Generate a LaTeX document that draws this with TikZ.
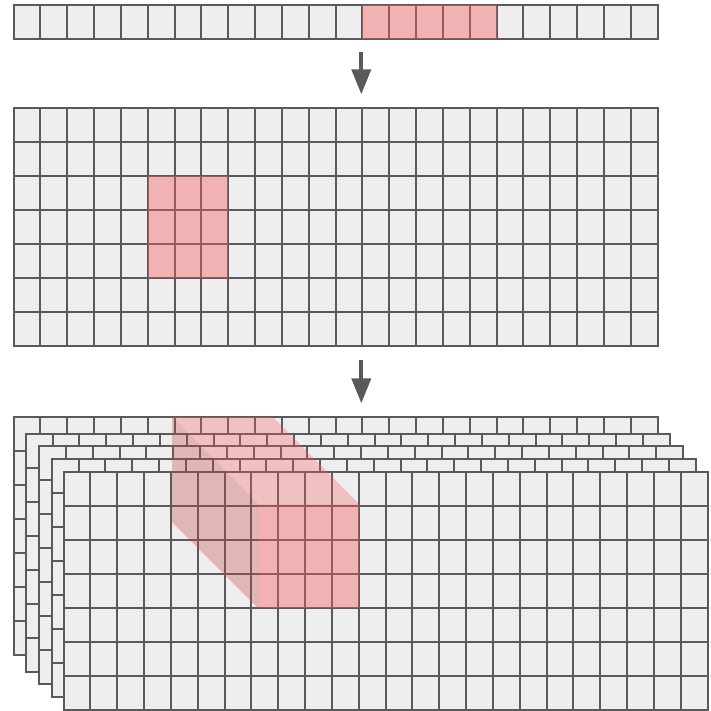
\documentclass[tikz,border=0pt]{standalone}
\usepackage{tikz}
\usetikzlibrary{arrows.meta}

\definecolor{cellfill}{HTML}{EEEEEE}
\definecolor{cellline}{HTML}{5A5A5A}
\definecolor{hilite}{RGB}{245,90,90}
\definecolor{hiliteside}{RGB}{200,70,80}

\def\cw{26.833}
\def\ch{34}

\tikzset{
  gridline/.style={cellline, line width=2pt, line cap=rect},
  selcell/.style={fill=hilite, fill opacity=0.4},
  flow/.style={draw=cellline, line width=4pt, -{Triangle[length=25pt,width=19pt]}},
}

% cell grid: x, y, columns, rows
\newcommand{\cellgrid}[4]{%
  \fill[cellfill] (#1,#2) rectangle ++(#3*\cw,#4*\ch);
  \foreach \i in {0,...,#3} \draw[gridline] (#1+\i*\cw,#2) -- ++(0,#4*\ch);
  \foreach \j in {0,...,#4} \draw[gridline] (#1,#2+\j*\ch) -- ++(#3*\cw,0);
}

\begin{document}
\begin{tikzpicture}[x=1pt, y=-1pt]
  \useasboundingbox (0,0) rectangle (711,710);

  % one row
  \cellgrid{13.5}{4.5}{24}{1}
  \fill[selcell] (13.5+13*\cw,4.5) rectangle ++(5*\cw,\ch);

  % plane
  \cellgrid{13.5}{108.3}{24}{7}
  \fill[selcell] (13.5+5*\cw,108.3+2*\ch) rectangle ++(3*\cw,3*\ch);

  % stack of planes
  \foreach \lx/\ly in {13.5/417, 25.7/434, 39/446.3, 51.7/459.3, 63.5/472} {
    \cellgrid{\lx}{\ly}{24}{7}
  }
  \fill[hiliteside, fill opacity=0.33] (172,417) -- (258,504) -- (258,608) -- (172,522) -- cycle;
  \fill[hilite, fill opacity=0.3] (172,417) -- (273,417) -- (359,504) -- (258,504) -- cycle;
  \fill[selcell] (258,504) rectangle (359,608);

  % arrows
  \coordinate (rowout) at (361.3,51.7);
  \coordinate (planein) at (361.3,94.3);
  \coordinate (planeout) at (361.3,360);
  \coordinate (stackin) at (361.3,403.3);
  \draw[flow] (rowout) -- (planein);
  \draw[flow] (planeout) -- (stackin);
\end{tikzpicture}
\end{document}
